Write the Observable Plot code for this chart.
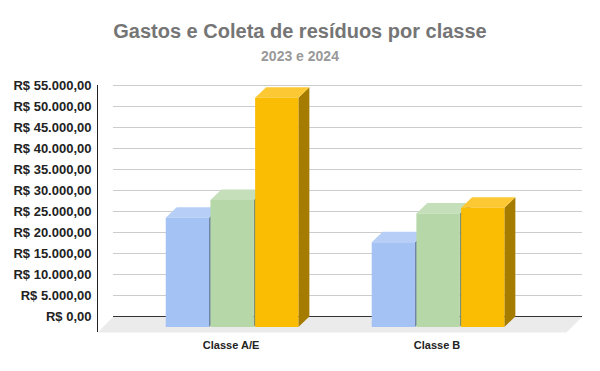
<!DOCTYPE html>
<html><head><meta charset="utf-8">
<script src="https://cdn.jsdelivr.net/npm/d3@7"></script>
<script src="https://cdn.jsdelivr.net/npm/@observablehq/plot@0.6"></script>
<style>
body{margin:0;background:#fff;font-family:Arial,"Liberation Sans",sans-serif;}
#wrap{position:relative;width:600px;height:371px;overflow:hidden;}
#title{position:absolute;left:0;width:600px;top:19px;text-align:center;font-size:20px;font-weight:bold;color:#757575;line-height:24px;}
#subtitle{position:absolute;left:0;width:600px;top:48px;text-align:center;font-size:14px;font-weight:bold;color:#999;line-height:17px;}
#chart{position:absolute;left:0;top:70px;}
</style></head><body>
<div id="wrap">
<div id="title">Gastos e Coleta de resíduos por classe</div>
<div id="subtitle">2023 e 2024</div>
<div id="chart"></div>
</div>
<script>
// ---- data ----
const categories = ["Classe A/E", "Classe B"];
const seriesNames = ["Série 1", "Série 2", "Série 3"];
const serie1 = [26000, 20200];
const serie2 = [30250, 27000];
const serie3 = [54600, 28400];
const yTicks = [0, 5000, 10000, 15000, 20000, 25000, 30000, 35000, 40000, 45000, 50000, 55000];

// ---- styles ----
const frontColors = ["#a4c2f4", "#b6d7a8", "#fbbc04"];
const topColors = ["#b7cff6", "#c5dfba", "#fcc934"];
const sideColors = ["#6f84a6", "#7b9172", "#a67c00"];

const width = 600, height = 301, marginTop = 15, marginBottom = 55, marginLeft = 113, marginRight = 18;
const yMax = 55000;
const xDomain = [-0.629, 1.648];
const pxX = (xDomain[1] - xDomain[0]) / (width - marginLeft - marginRight);
const pxY = yMax / (height - marginTop - marginBottom);
const barDepthX = 11, barDepthY = 10.5, floorDepth = 16;
const barWidth = 0.21, barPitch = 0.217;

const fmt = d3.formatLocale({decimal: ",", thousands: ".", grouping: [3], currency: ["R$ ", ""]}).format("$,.2f");

// projection helper: move a point towards the viewer by (dx, dy) pixels of depth
const P = (x, v, dx, dy) => ({x: x - dx * pxX, y: v - dy * pxY});

const values = [serie1, serie2, serie3];
const polys = [];
let id = 0;
// floor
[[xDomain[0], 0, 0], [xDomain[1], 0, 0], [xDomain[1], floorDepth, floorDepth], [xDomain[0], floorDepth, floorDepth]]
  .forEach(([x, dx, dy]) => polys.push({id, color: "#ebebeb", ...P(x, 0, dx, dy)}));
id++;
categories.forEach((c, g) => {
  seriesNames.forEach((s, k) => {
    const v = values[k][g];
    const xl = g + (k - 1) * barPitch - barWidth / 2;
    const xr = xl + barWidth;
    const F = [barDepthX, barDepthY], B = [0, 0];
    const faces = [
      [sideColors[k], [[xr, 0, F], [xr, v, F], [xr, v, B], [xr, 0, B]]],
      [topColors[k], [[xl, v, F], [xr, v, F], [xr, v, B], [xl, v, B]]],
      [frontColors[k], [[xl, 0, F], [xr, 0, F], [xr, v, F], [xl, v, F]]]
    ];
    faces.forEach(([color, pts]) => {
      pts.forEach(([x, vv, d]) => polys.push({id, color, category: c, series: s, ...P(x, vv, d[0], d[1])}));
      id++;
    });
  });
});

const plot = Plot.plot({
  width, height, marginTop, marginBottom, marginLeft, marginRight,
  x: {domain: xDomain, axis: null},
  y: {domain: [0, yMax], axis: null},
  color: {type: "identity"},
  marks: [
    Plot.ruleY(yTicks.filter(d => d > 0), {stroke: "#cccccc", strokeWidth: 1}),
    Plot.line(polys.filter(p => p.id === 0), {x: "x", y: "y", z: "id", fill: "color", stroke: "none", curve: "linear-closed"}),
    Plot.ruleY([0], {stroke: "#333", strokeWidth: 1}),
    Plot.line(polys.filter(p => p.id > 0), {x: "x", y: "y", z: "id", fill: "color", stroke: "none", curve: "linear-closed"}),
    Plot.ruleX([xDomain[0] - floorDepth * pxX], {y1: yMax, y2: -floorDepth * pxY, stroke: "#222", strokeWidth: 1}),
    Plot.axisY({ticks: yTicks, tickFormat: fmt, tickSize: 0, tickPadding: 22, fontSize: 13, fontWeight: "bold", fill: "#222", label: null}),
    Plot.text(categories, {x: (d, i) => i, y: 0, text: d => d, dx: -12, dy: 28.5, fontSize: 11, fontWeight: "bold", fill: "#222"})
  ],
  style: {fontFamily: "Arial, 'Liberation Sans', sans-serif", background: "#fff"}
});
document.getElementById("chart").appendChild(plot);
</script>
</body></html>
